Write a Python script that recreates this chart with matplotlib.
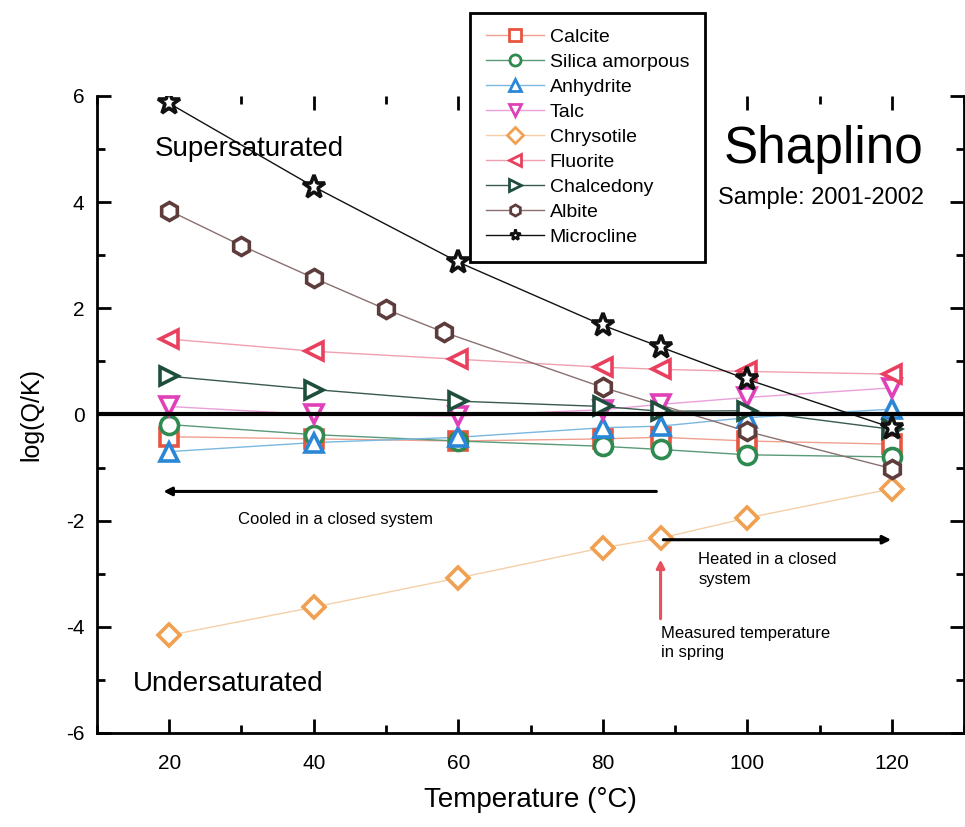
import numpy as np
import matplotlib
matplotlib.use("Agg")
import matplotlib.pyplot as plt
from matplotlib.ticker import MultipleLocator

plt.rcParams['font.family'] = ['Liberation Sans', 'DejaVu Sans']
plt.rcParams['axes.unicode_minus'] = False

# ---------------------------- data -------------------------------
temp = [20, 40, 60, 80, 88, 100, 120]

calcite = [-0.42, -0.46, -0.50, -0.46, -0.43, -0.50, -0.56]
silica_amorph = [-0.19, -0.38, -0.50, -0.60, -0.66, -0.76, -0.80]
anhydrite = [-0.70, -0.53, -0.43, -0.25, -0.22, -0.06, 0.10]
talc = [0.15, 0.00, -0.03, 0.09, 0.19, 0.32, 0.50]
chrysotile = [-4.16, -3.63, -3.08, -2.51, -2.33, -1.95, -1.40]
fluorite = [1.42, 1.19, 1.04, 0.89, 0.85, 0.81, 0.76]
chalcedony = [0.72, 0.47, 0.25, 0.15, 0.06, 0.07, -0.28]
microcline = [5.86, 4.29, 2.87, 1.68, 1.27, 0.66, -0.25]

temp_albite = [20, 30, 40, 50, 58, 80, 100, 120]
albite = [3.84, 3.18, 2.57, 1.98, 1.55, 0.51, -0.32, -1.02]

# name, x, y, marker, marker colour, line colour
series = [
    ("Calcite", temp, calcite, "s", "#e8553f", "#f0a090"),
    ("Silica amorpous", temp, silica_amorph, "o", "#2f8a50", "#5a9a78"),
    ("Anhydrite", temp, anhydrite, "^", "#2a86d6", "#7ab8e0"),
    ("Talc", temp, talc, "v", "#e040b8", "#eaa0d8"),
    ("Chrysotile", temp, chrysotile, "D", "#f0a050", "#f5cfa8"),
    ("Fluorite", temp, fluorite, "<", "#e8405e", "#f0a0b0"),
    ("Chalcedony", temp, chalcedony, ">", "#1f4e3c", "#3a5a4c"),
    ("Albite", temp_albite, albite, "h", "#5e3c3c", "#8a7070"),
    ("Microcline", temp, microcline, "*", "#111111", "#111111"),
]

# ---------------------------- plot -------------------------------
fig = plt.figure(figsize=(9.65, 8.27), dpi=100)
ax = fig.add_axes([0.1005, 0.1137, 0.8985, 0.7703])

handles = []
for name, x, y, mk, mc, lc in series:
    ms = 17 if mk == "*" else 13
    if mk == "D":
        ms = 11
    ax.plot(x, y, color=lc, lw=1.0, zorder=2)
    ax.plot(x, y, ls="none", marker=mk, ms=ms, mfc="white", mec=mc,
            mew=2.6, zorder=3)
    h, = ax.plot([], [], color=lc, lw=1.0, marker=mk, ms=8, mfc="white",
                 mec=mc, mew=2.0, label=name)
    handles.append(h)

ax.axhline(0, color="black", lw=3, zorder=4)

ax.set_xlim(10, 130)
ax.set_ylim(-6, 6)
ax.set_xticks([20, 40, 60, 80, 100, 120])
ax.set_yticks([-6, -4, -2, 0, 2, 4, 6])
ax.xaxis.set_minor_locator(MultipleLocator(10))
ax.yaxis.set_minor_locator(MultipleLocator(1))
ax.tick_params(which="both", direction="in", top=True, right=True,
               width=2, labelsize=15)
ax.tick_params(which="major", length=10)
ax.tick_params(which="minor", length=6)
ax.tick_params(axis="x", pad=15)
ax.tick_params(axis="y", pad=9)
ax.spines["top"].set_visible(False)
for s in ["left", "bottom", "right"]:
    ax.spines[s].set_linewidth(2)

ax.set_xlabel("Temperature (°C)", fontsize=20, labelpad=10)
ax.set_ylabel("log(Q/K)", fontsize=18, labelpad=16)

# annotations
ax.text(18.0, 5.0, "Supersaturated", fontsize=20, va="center")
ax.text(15.0, -5.07, "Undersaturated", fontsize=20, va="center")
ax.text(96.7, 5.0, "Shaplino", fontsize=37, va="center")
ax.text(96.0, 4.08, "Sample: 2001-2002", fontsize=17, va="center")

ax.annotate("", xy=(18.8, -1.45), xytext=(87.8, -1.45),
            arrowprops=dict(arrowstyle="-|>", color="black", lw=2.2,
                            mutation_scale=12))
ax.text(43, -1.98, "Cooled in a closed system", fontsize=12, ha="center",
        va="center")

ax.annotate("", xy=(120.3, -2.36), xytext=(88, -2.36),
            arrowprops=dict(arrowstyle="-|>", color="black", lw=2.2,
                            mutation_scale=12))
ax.text(93.2, -2.6, "Heated in a closed\nsystem", fontsize=12, ha="left",
        va="top", linespacing=1.35)

ax.annotate("", xy=(88, -2.68), xytext=(88, -3.9),
            arrowprops=dict(arrowstyle="-|>", color="#e8505e", lw=2.2,
                            mutation_scale=12))
ax.text(88, -3.98, "Measured temperature\nin spring", fontsize=12,
        ha="left", va="top", linespacing=1.35)

leg = fig.legend(handles=handles, loc="upper left",
                 bbox_to_anchor=(0.477, 0.996), fontsize=14,
                 handlelength=3.0, labelspacing=0.38, borderpad=0.8,
                 handletextpad=0.3, fancybox=False, framealpha=1,
                 edgecolor="black")
leg.get_frame().set_linewidth(2)

fig.savefig("out.png", dpi=100)
